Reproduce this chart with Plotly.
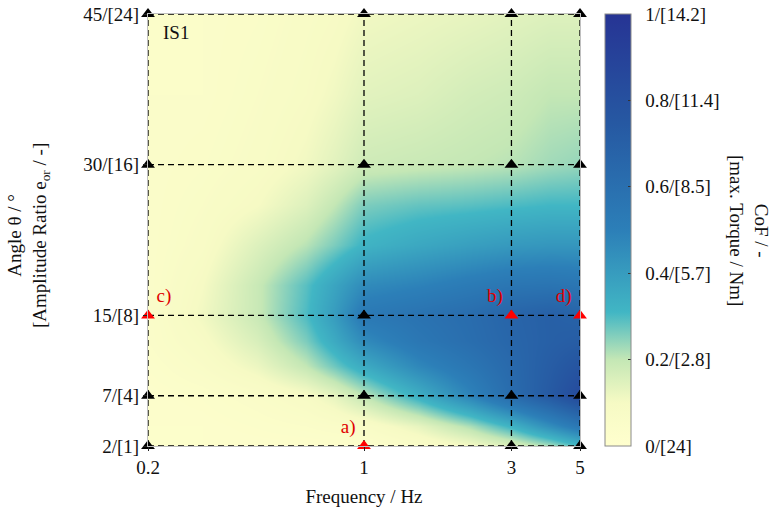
import numpy as np
import plotly.graph_objects as go

# ---- data ----
freq_hz = [0.2, 0.3, 0.45, 0.65, 0.8, 1, 1.5, 2.2, 3, 4, 5]
angle_deg = [2, 4, 7, 10, 12.5, 15, 18, 22, 26, 30, 37, 45]
cof = [
    [0.03, 0.03, 0.03, 0.03, 0.03, 0.03, 0.06, 0.10, 0.15, 0.22, 0.30],  # 2
    [0.03, 0.03, 0.04, 0.05, 0.06, 0.07, 0.13, 0.22, 0.32, 0.45, 0.55],  # 4
    [0.03, 0.04, 0.06, 0.09, 0.13, 0.20, 0.33, 0.48, 0.62, 0.74, 0.85],  # 7
    [0.04, 0.07, 0.12, 0.20, 0.27, 0.35, 0.47, 0.56, 0.64, 0.72, 0.78],  # 10
    [0.05, 0.09, 0.16, 0.26, 0.35, 0.46, 0.55, 0.61, 0.66, 0.70, 0.72],  # 12.5
    [0.05, 0.11, 0.19, 0.30, 0.40, 0.54, 0.58, 0.62, 0.67, 0.70, 0.68],  # 15
    [0.05, 0.10, 0.19, 0.29, 0.37, 0.46, 0.49, 0.53, 0.56, 0.57, 0.56],  # 18
    [0.05, 0.08, 0.15, 0.21, 0.26, 0.32, 0.36, 0.39, 0.41, 0.42, 0.42],  # 22
    [0.05, 0.07, 0.10, 0.15, 0.20, 0.26, 0.28, 0.29, 0.30, 0.31, 0.31],  # 26
    [0.05, 0.06, 0.08, 0.11, 0.14, 0.18, 0.19, 0.20, 0.21, 0.23, 0.24],  # 30
    [0.05, 0.05, 0.07, 0.09, 0.11, 0.14, 0.15, 0.17, 0.18, 0.20, 0.20],  # 37
    [0.05, 0.05, 0.06, 0.08, 0.09, 0.11, 0.12, 0.13, 0.14, 0.15, 0.15],  # 45
]

grid_freq = [0.2, 1, 3, 5]
grid_freq_text = ["0.2", "1", "3", "5"]
grid_angle = [2, 7, 15, 30, 45]
angle_ticktext = ["2/[1]", "7/[4]", "15/[8]", "30/[16]", "45/[24]"]

cbar_tickvals = [0, 0.2, 0.4, 0.6, 0.8, 1]
cbar_ticktext = ["0/[24]", "0.2/[2.8]", "0.4/[5.7]", "0.6/[8.5]", "0.8/[11.4]", "1/[14.2]"]

highlight_freq = [1, 3, 0.2, 5]
highlight_angle = [2, 15, 15, 15]
highlight_label = ["a)", "b)", "c)", "d)"]
highlight_pos = ["top left", "top left", "top right", "top left"]

FONT = "Liberation Serif, Times New Roman, serif"
colorscale = [
    [0.0, "rgb(255,255,206)"],
    [0.1, "rgb(246,250,196)"],
    [0.2, "rgb(196,231,181)"],
    [0.31, "rgb(65,182,196)"],
    [0.5, "rgb(44,127,184)"],
    [0.75, "rgb(38,88,162)"],
    [1.0, "rgb(38,52,148)"],
]

fig = go.Figure()
fig.add_trace(go.Heatmap(
    x=freq_hz, y=angle_deg, z=cof, zmin=0, zmax=1, zsmooth="best",
    colorscale=colorscale, hoverinfo="skip",
    colorbar=dict(
        x=(605 - 148) / 432, xanchor="left", xpad=0,
        y=0.5, yanchor="middle", ypad=0, len=1, lenmode="fraction",
        thickness=26, outlinewidth=1, outlinecolor="#8a8a8a",
        ticks="inside", ticklen=3, tickcolor="#333",
        tickvals=cbar_tickvals,
        ticktext=["\u00a0\u00a0" + t for t in cbar_ticktext],
        tickfont=dict(family=FONT, size=19, color="#111"),
    ),
))

# dashed grid lines through the measurement points
for a in grid_angle:
    fig.add_trace(go.Scatter(x=[grid_freq[0], grid_freq[-1]], y=[a, a], mode="lines",
                             line=dict(color="black", width=1.3, dash="6px,4px"),
                             hoverinfo="skip", showlegend=False))
for f in grid_freq:
    fig.add_trace(go.Scatter(x=[f, f], y=[grid_angle[0], grid_angle[-1]], mode="lines",
                             line=dict(color="black", width=1.3, dash="6px,4px"),
                             hoverinfo="skip", showlegend=False))

hl = set(zip(highlight_freq, highlight_angle))
bx, by = [], []
for f in grid_freq:
    for a in grid_angle:
        if (f, a) not in hl:
            bx.append(f)
            by.append(a)
fig.add_trace(go.Scatter(x=bx, y=by, mode="markers",
                         marker=dict(symbol="triangle-up", size=12, color="black"),
                         cliponaxis=False, showlegend=False, hoverinfo="skip"))
fig.add_trace(go.Scatter(x=highlight_freq, y=highlight_angle, mode="markers+text",
                         text=highlight_label, textposition=highlight_pos,
                         textfont=dict(family=FONT, size=19, color="#e00000"),
                         marker=dict(symbol="triangle-up", size=12, color="#ff0000"),
                         cliponaxis=False, showlegend=False, hoverinfo="skip"))

fig.add_annotation(x=0.03, y=0.985, xref="paper", yref="paper", xanchor="left", yanchor="top",
                   text="IS1", showarrow=False, font=dict(family=FONT, size=19, color="#111"))
fig.add_annotation(x=(749 - 148) / 432, y=0.5, xref="paper", yref="paper",
                   xanchor="center", yanchor="middle",
                   text="CoF / -<br>[max. Torque / Nm]", textangle=90, showarrow=False,
                   font=dict(family=FONT, size=19, color="#111"))
fig.add_annotation(x=(29 - 148) / 432, y=(446 - 236) / 432, xref="paper", yref="paper",
                   xanchor="center", yanchor="middle",
                   text="Angle θ / °<br>[Amplitude Ratio e<sub>or</sub> / -]", textangle=-90,
                   showarrow=False, font=dict(family=FONT, size=19, color="#111"))

axis_common = dict(showgrid=False, zeroline=False, showline=True, mirror=True,
                   linecolor="#c0c0c0", linewidth=1, ticks="outside", ticklen=4,
                   tickcolor="#222", tickfont=dict(family=FONT, size=19, color="#111"))
fig.update_layout(
    width=776, height=512,
    margin=dict(l=148, r=196, t=14, b=66, autoexpand=False),
    paper_bgcolor="white", plot_bgcolor="white",
    xaxis=dict(type="log", range=[np.log10(0.2), np.log10(5)],
               tickvals=grid_freq, ticktext=grid_freq_text,
               title=dict(text="Frequency / Hz", font=dict(family=FONT, size=19, color="#111"), standoff=12),
               **axis_common),
    yaxis=dict(range=[2, 45], tickvals=grid_angle, ticktext=angle_ticktext,
               **axis_common),
    showlegend=False,
)

fig.write_html("out.html")
